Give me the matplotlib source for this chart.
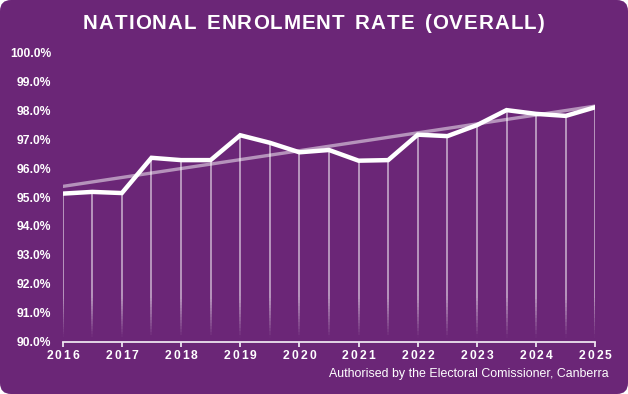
import matplotlib
matplotlib.use("Agg")
import matplotlib.pyplot as plt
from matplotlib.patches import FancyBboxPatch
from matplotlib.collections import LineCollection
from matplotlib.font_manager import FontProperties
import numpy as np

# ---- data ----
periods = [2016, 2016.5, 2017, 2017.5, 2018, 2018.5, 2019, 2019.5, 2020, 2020.5,
           2021, 2021.5, 2022, 2022.5, 2023, 2023.5, 2024, 2024.5, 2025]
enrolment = [95.12, 95.18, 95.14, 96.36, 96.28, 96.28, 97.14, 96.88, 96.55, 96.63,
             96.26, 96.28, 97.16, 97.11, 97.49, 98.01, 97.88, 97.81, 98.11]
trend_x = [2016, 2025]
trend_y = [95.37, 98.15]
year_ticks = [2016, 2017, 2018, 2019, 2020, 2021, 2022, 2023, 2024, 2025]
y_ticks = [90, 91, 92, 93, 94, 95, 96, 97, 98, 99, 100]
title = "NATIONAL ENROLMENT RATE (OVERALL)"
footer = "Authorised by the Electoral Comissioner, Canberra"

PURPLE = "#6B2677"
FONT = "Liberation Sans"
W, H = 628, 394

fig = plt.figure(figsize=(W / 100, H / 100), dpi=100)
fig.patch.set_facecolor("white")
bg = FancyBboxPatch((0, 0), W / 100, H / 100, boxstyle="round,pad=0,rounding_size=0.11",
                    transform=fig.dpi_scale_trans, facecolor=PURPLE, edgecolor="none",
                    zorder=-10)
fig.patches.append(bg)

renderer = fig.canvas.get_renderer()


def tracked_text(xpx, ypx, s, prop, track_px, ha="center", va="center", word_extra=0.0):
    """Draw text with extra letter spacing; positions in pixels from top-left."""
    widths = []
    for ch in s:
        w, _, _ = renderer.get_text_width_height_descent(ch, prop, ismath=False)
        if ch == " ":
            w += word_extra
        widths.append(w)
    total = sum(widths) + track_px * (len(s) - 1)
    if ha == "center":
        x0 = xpx - total / 2
    elif ha == "right":
        x0 = xpx - total
    else:
        x0 = xpx
    x = x0
    for ch, w in zip(s, widths):
        if ch != " ":
            fig.text(x / W, 1 - ypx / H, ch, ha="left", va=va, color="white",
                     fontproperties=prop)
        x += w + track_px


ax_left, ax_right, ax_bottom, ax_top = 62.7, 595.3, 341.6, 52.6
ax = fig.add_axes([ax_left / W, (H - ax_bottom) / H, (ax_right - ax_left) / W,
                   (ax_bottom - ax_top) / H])
ax.set_facecolor("none")
ax.set_xlim(2016, 2025)
ax.set_ylim(90, 100)

# drop lines with fade toward the bottom
segs, cols = [], []
for x, y in zip(periods, enrolment):
    ys = np.linspace(90, y, 60)
    for i in range(len(ys) - 1):
        mid = (ys[i] + ys[i + 1]) / 2
        a = 0.6 * min(1.0, max(0.0, (mid - 90.15) / 1.4))
        segs.append([(x, ys[i]), (x, ys[i + 1])])
        cols.append((1, 1, 1, a))
ax.add_collection(LineCollection(segs, colors=cols, linewidths=1.2, zorder=2))

ax.plot(trend_x, trend_y, color=(1, 1, 1, 0.5), lw=2.4, solid_capstyle="butt", zorder=3)
ax.plot(periods, enrolment, color="white", lw=3.2, solid_joinstyle="miter", zorder=4)

for s in ["top", "right", "left"]:
    ax.spines[s].set_visible(False)
ax.spines["bottom"].set_color("#EDE3EF")
ax.spines["bottom"].set_linewidth(1.3)

ax.set_yticks(y_ticks)
ax.set_yticklabels([f"{v:.1f}%" for v in y_ticks])
ax.set_xticks(year_ticks)
ax.set_xticklabels([])
ax.tick_params(axis="y", length=0, pad=8.4, labelcolor="white", labelsize=8.7)
ax.tick_params(axis="x", length=3.5, width=1.3, color="#EDE3EF")
for lab in ax.get_yticklabels():
    lab.set_fontfamily(FONT)
    lab.set_fontweight("bold")

# x tick labels with letter spacing
xprop = FontProperties(family=FONT, weight="bold", size=8.7)
for yr in year_ticks:
    xpx = ax_left + (yr - 2016) / 9 * (ax_right - ax_left)
    tracked_text(xpx, 356, str(yr), xprop, 2.0)

# title with letter spacing
tprop = FontProperties(family=FONT, weight="bold", size=14.8)
tracked_text(313.5, 23.5, title, tprop, 1.0, word_extra=3.0)

fig.text(609 / W, 1 - 374 / H, footer, ha="right", va="center", color="white",
         fontsize=8.9, family=FONT)

fig.savefig("out.png", dpi=100, facecolor=fig.get_facecolor())
